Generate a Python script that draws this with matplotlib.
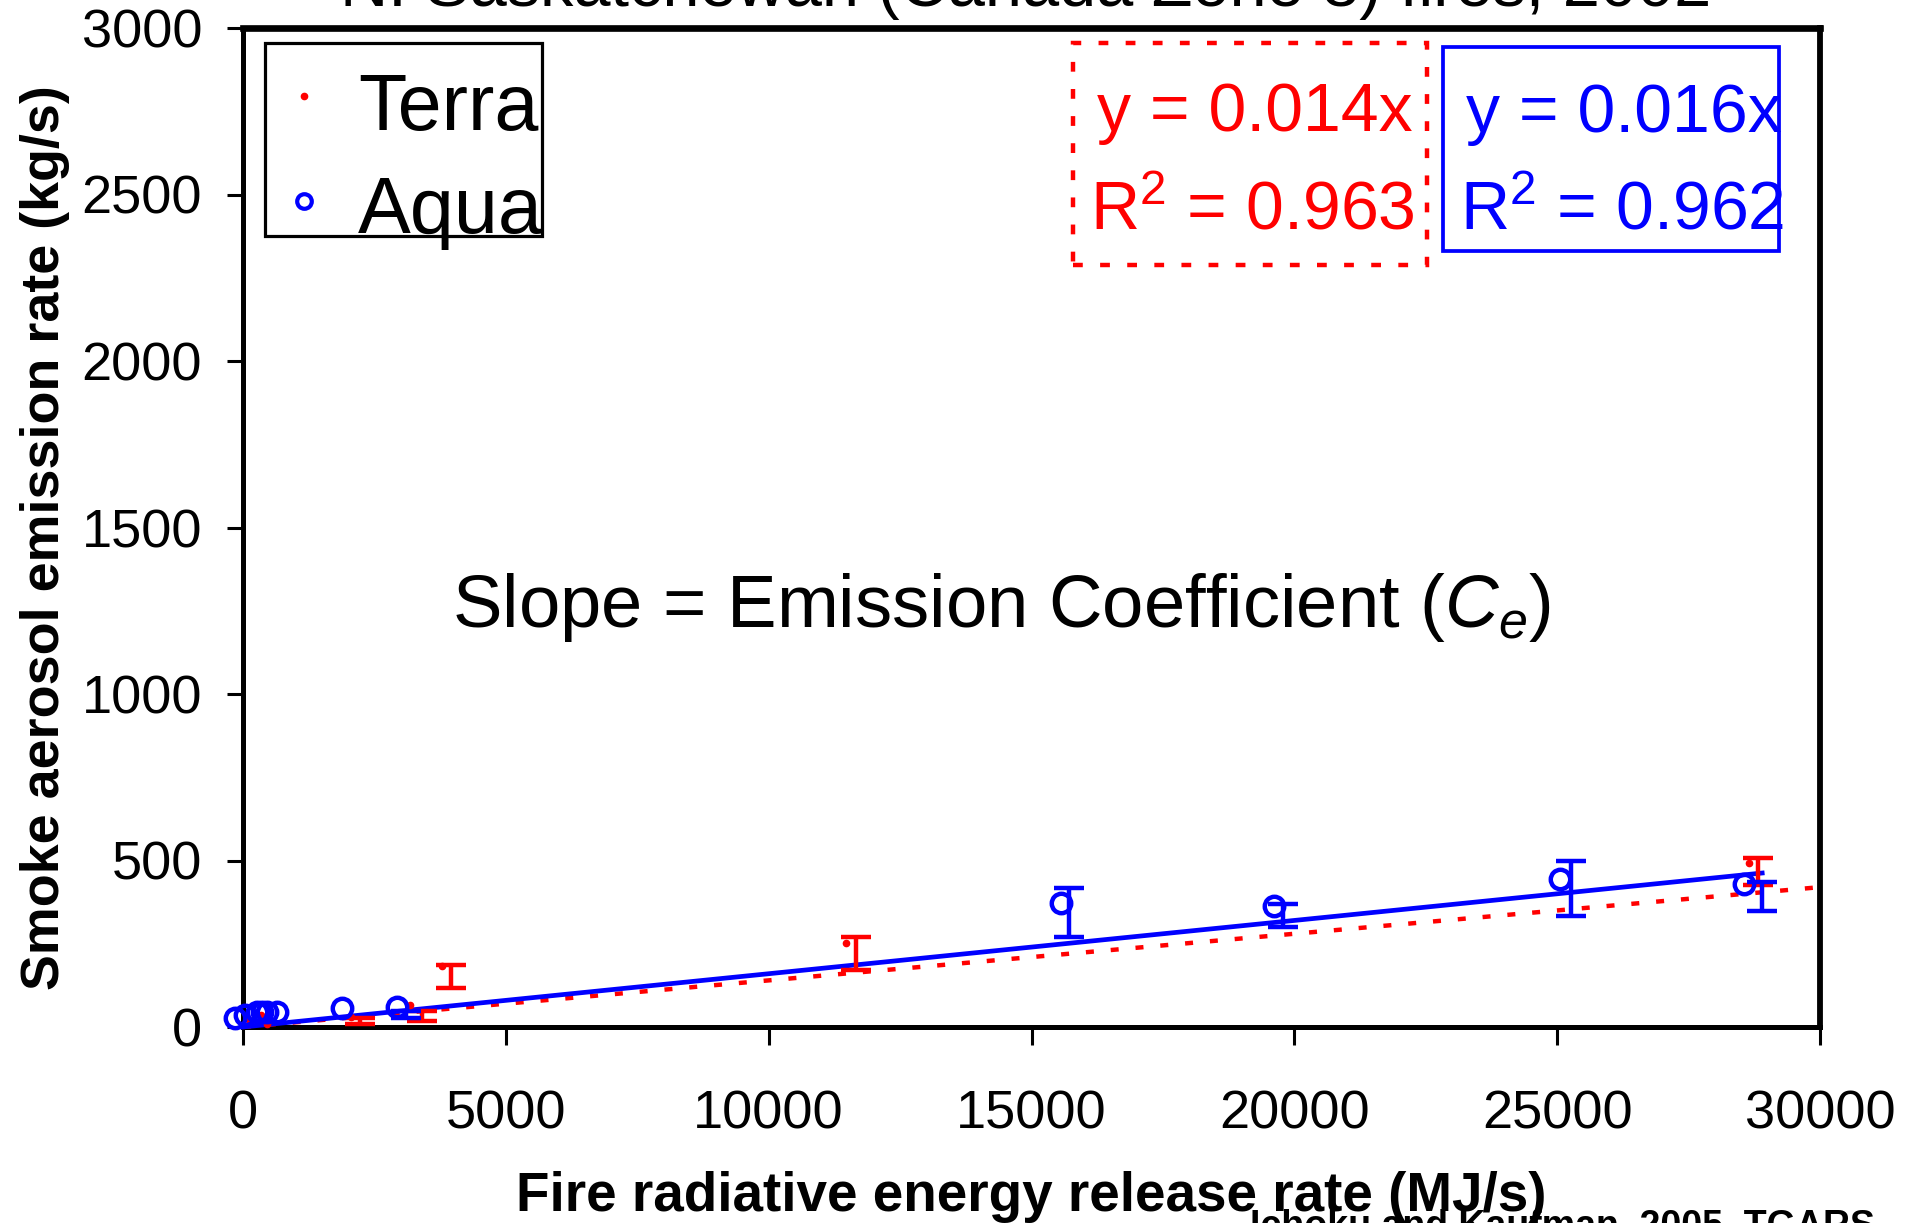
import matplotlib
matplotlib.use("Agg")
import matplotlib.pyplot as plt
from matplotlib.patches import Rectangle
from matplotlib.lines import Line2D
import numpy as np

plt.rcParams["font.family"] = ["Liberation Sans", "DejaVu Sans"]
plt.rcParams["mathtext.fontset"] = "custom"
plt.rcParams["mathtext.rm"] = "Liberation Sans"
plt.rcParams["mathtext.it"] = "Liberation Sans:italic"

# ---- data ----
terra_x = [100, 350, 450, 2050, 3180, 3790, 11470, 28640]
terra_y = [25, 35, 10, 30, 66, 183, 253, 492]
terra_err_x = [2230, 3410, 3955, 11660, 28830]
terra_err_lo = [8, 18, 117, 171, 426]
terra_err_hi = [28, 49, 186, 271, 507]

aqua_x = [-150, 40, 266, 360, 457, 646, 1880, 2930, 15560, 19610, 25050, 28550]
aqua_y = [27, 36, 45, 45, 45, 45, 57, 60, 373, 362, 443, 428]
aqua_err_x = [3100, 15720, 19780, 25260, 28900]
aqua_err_lo = [28, 270, 300, 333, 348]
aqua_err_hi = [48, 417, 370, 498, 436]

terra_slope, aqua_slope = 0.014, 0.016
terra_r2, aqua_r2 = 0.963, 0.962
terra_fit_x = [0, 30000]
aqua_fit_x = [0, 28900]

x_ticks = [0, 5000, 10000, 15000, 20000, 25000, 30000]
y_ticks = [0, 500, 1000, 1500, 2000, 2500, 3000]

W, H = 1921, 1223
RED, BLUE = "#ff0000", "#0000ff"


def px(x, y):
    return x / W, 1 - y / H


fig = plt.figure(figsize=(W / 100, H / 100), dpi=100)
ax = fig.add_axes([243 / W, 1 - 1027 / H, (1820 - 243) / W, (1027 - 28) / H])

ax.set_xlim(0, 30000)
ax.set_ylim(0, 3000)
ax.set_xticks(x_ticks)
ax.set_yticks(y_ticks)
ax.tick_params(axis="both", direction="out", width=2.2, labelsize=39)
ax.tick_params(axis="x", length=13, pad=32)
ax.tick_params(axis="y", length=11.5, pad=18)
for s in ax.spines.values():
    s.set_linewidth(3.6)
ax.spines["top"].set_linewidth(4.8)
ax.spines["right"].set_linewidth(4.2)

# trend lines
tx = np.array(terra_fit_x)
ax.plot(tx, terra_slope * tx, color=RED, lw=3.2, linestyle=(0, (1.8, 3.8)),
        dash_capstyle="butt", clip_on=False, zorder=3)
axx = np.array(aqua_fit_x)
ax.plot(axx, aqua_slope * axx, color=BLUE, lw=3.4, clip_on=False, zorder=4)


# error bars
def bars(xs, lo, hi, color):
    lo, hi = np.array(lo), np.array(hi)
    mid = (lo + hi) / 2
    err = (hi - lo) / 2
    ax.errorbar(xs, mid, yerr=err, fmt="none", ecolor=color, elinewidth=3.2,
                capsize=11, capthick=3.2, clip_on=False, zorder=5)


bars(terra_err_x, terra_err_lo, terra_err_hi, RED)
bars(aqua_err_x, aqua_err_lo, aqua_err_hi, BLUE)

ax.plot(terra_x, terra_y, linestyle="none", marker="o", ms=4.5, color=RED,
        clip_on=False, zorder=6)
ax.plot(aqua_x, aqua_y, linestyle="none", marker="o", ms=14, mew=3.2,
        mfc="none", mec=BLUE, clip_on=False, zorder=6)

# axis labels
fig.text(*px(1031, 1197), "Fire radiative energy release rate (MJ/s)",
         ha="center", va="center", fontsize=39.5, fontweight="bold")
fig.text(*px(45, 538), "Smoke aerosol emission rate (kg/s)", rotation=90,
         ha="center", va="center", fontsize=38.8, fontweight="bold")

# clipped title and citation
fig.text(*px(1026, 6), "N. Saskatchewan (Canada Zone 3) fires, 2002",
         ha="center", va="baseline", fontsize=48)
fig.text(*px(1875, 1209), "Ichoku and Kaufman, 2005, TGARS",
         ha="right", va="top", fontsize=27, fontweight="bold")

# legend box drawn by hand
fig.patches.append(Rectangle(px(265, 236), (542 - 265) / W, (236 - 43) / H,
                             transform=fig.transFigure, fill=False,
                             edgecolor="black", lw=2.3, zorder=7))
fig.lines.append(Line2D([304 / W], [1 - 96 / H], transform=fig.transFigure,
                        marker="o", ms=4.5, color=RED, linestyle="none"))
fig.lines.append(Line2D([304 / W], [1 - 201 / H], transform=fig.transFigure,
                        marker="o", ms=10.5, mew=3.0, mfc="none", mec=BLUE,
                        linestyle="none"))
fig.text(*px(358, 130), "Terra", ha="left", va="baseline", fontsize=57)
fig.text(*px(358, 233), "Aqua", ha="left", va="baseline", fontsize=57)

# regression boxes
fig.patches.append(Rectangle(px(1073, 265), (1427 - 1073) / W, (265 - 43) / H,
                             transform=fig.transFigure, fill=False,
                             edgecolor=RED, lw=3.2, linestyle=(0, (2.2, 3.9))))
fig.patches.append(Rectangle(px(1443, 251), (1779 - 1443) / W, (251 - 47) / H,
                             transform=fig.transFigure, fill=False,
                             edgecolor=BLUE, lw=2.7))
fig.text(*px(1097, 131), f"y = {terra_slope:.3f}x", color=RED, ha="left",
         va="baseline", fontsize=49)
fig.text(*px(1090, 229), f"R$^2$ = {terra_r2:.3f}", color=RED, ha="left",
         va="baseline", fontsize=49)
fig.text(*px(1466, 132), f"y = {aqua_slope:.3f}x", color=BLUE, ha="left",
         va="baseline", fontsize=49)
fig.text(*px(1460, 230), f"R$^2$ = {aqua_r2:.3f}", color=BLUE, ha="left",
         va="baseline", fontsize=49)

fig.text(*px(1002, 627), r"Slope = Emission Coefficient ($C_e$)",
         ha="center", va="baseline", fontsize=53.5)

fig.savefig("out.png", dpi=100)
